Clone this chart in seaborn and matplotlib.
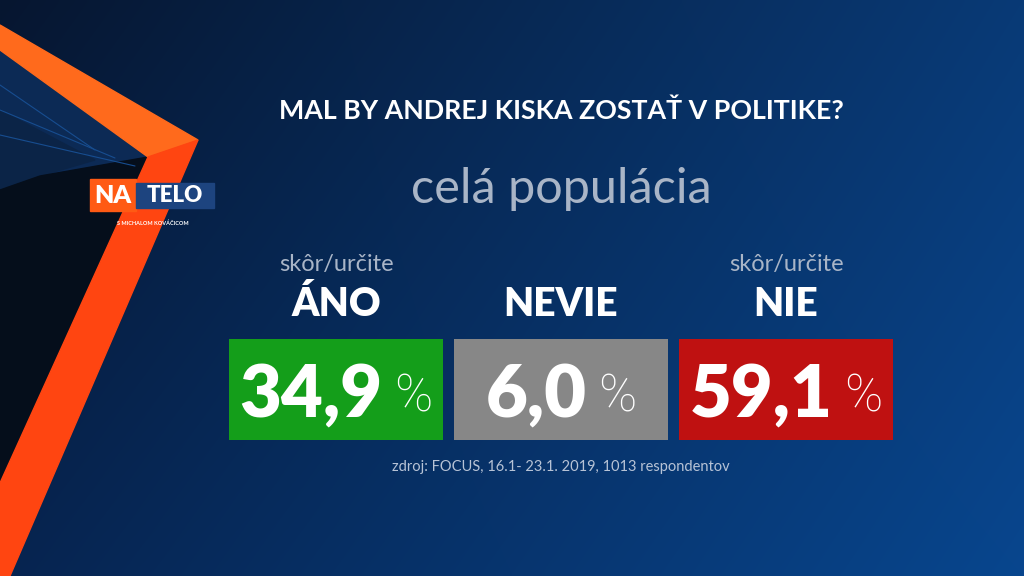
import numpy as np
import matplotlib
matplotlib.use("Agg")
import matplotlib.pyplot as plt
from matplotlib.patches import Polygon
import seaborn as sns

# poll data
question = "MAL BY ANDREJ KISKA ZOSTAŤ V POLITIKE?"
subtitle = "celá populácia"
categories = ["ÁNO", "NEVIE", "NIE"]
qualifiers = ["skôr/určite", "", "skôr/určite"]
shares = [34.9, 6.0, 59.1]
source = "zdroj: FOCUS, 16.1- 23.1. 2019, 1013 respondentov"
box_colors = ["#149e1a", "#878787", "#bf1111"]

sns.set_theme(style="white")
plt.rcParams["font.family"] = ["Lato", "DejaVu Sans"]

W, H = 1024, 576
fig = plt.figure(figsize=(10.24, 5.76), dpi=100)


# background gradient + left decoration, in pixel coords
def draw_background(fig):
    bg = fig.add_axes([0, 0, 1, 1])
    xs = np.linspace(0, 1, 256)[None, :, None]
    ys = np.linspace(0, 1, 144)[:, None, None]
    tl = np.array([6, 22, 48]) / 255
    tr = np.array([9, 58, 118]) / 255
    bl = np.array([6, 36, 80]) / 255
    br = np.array([8, 70, 142]) / 255
    img = (1 - ys) * ((1 - xs) * tl + xs * tr) + ys * ((1 - xs) * bl + xs * br)
    bg.imshow(img, extent=[0, W, H, 0], aspect="auto", interpolation="bilinear")
    # blue stripes zone inside the frame
    bg.add_patch(Polygon([(0, 50), (148, 157), (40, 176), (0, 190)], color="#0c2a55"))
    bg.add_patch(Polygon([(0, 110), (95, 160), (40, 176), (0, 190)], color="#0b2447"))
    for k in range(3):
        bg.plot([0, 95 + 20 * k], [85 + 25 * k, 150 + 8 * k], color="#174d90", lw=0.8)
    # dark inner panel
    bg.add_patch(Polygon([(0, 190), (40, 176), (148, 157), (0, 483)], color="#050e1b"))
    # orange frame
    bg.add_patch(Polygon([(0, 25), (198, 140), (148, 157), (0, 50)], color="#ff6a1c"))
    bg.add_patch(Polygon([(198, 140), (10, 576), (0, 576), (0, 483), (148, 157)], color="#ff4511"))
    bg.set_xlim(0, W)
    bg.set_ylim(H, 0)
    bg.axis("off")
    # show logo
    bg.add_patch(Polygon([(90, 179), (136, 179), (136, 211), (90, 211)], color="#ff5a14"))
    bg.add_patch(Polygon([(136, 183), (214, 183), (214, 208), (136, 208)], color="#1d447f"))
    bg.text(113, 196, "NA", color="white", fontsize=18, fontweight="heavy", ha="center", va="center")
    bg.text(175, 196, "TELO", color="white", fontsize=16, fontweight="heavy", ha="center", va="center")
    bg.text(153, 223, "S MICHALOM KOVÁČICOM", color="white", fontsize=4, fontweight="bold",
            ha="center", va="center")
    return bg


bg = draw_background(fig)

# texts above the boxes
fig.text(561 / W, 1 - 111 / H, question, color="white", fontsize=19.3, fontweight="bold",
         ha="center", va="center")
fig.text(561 / W, 1 - 189 / H, subtitle, color="#a9b5c7", fontsize=35, fontweight="normal",
         ha="center", va="center")

# boxes: equal size panels, one per answer
left = (336 - 112.5) / W
ax = fig.add_axes([left, 136 / H, 675 / W, 101 / H])
sns.barplot(x=categories, y=[1] * len(categories), hue=categories, palette=box_colors,
            saturation=1, width=0.951, legend=False, linewidth=0, edgecolor="none", ax=ax)
ax.set_xlim(-0.5, len(categories) - 0.5)
ax.set_ylim(0, 1)
ax.axis("off")
ax.patch.set_alpha(0)

for i, (cat, q) in enumerate(zip(categories, qualifiers)):
    xc = ax.transData.transform((i, 0))[0] / W
    if q:
        fig.text(xc, 1 - 265 / H, q, color="#a9b5c7", fontsize=17, fontweight="normal",
                 ha="center", va="center")
    fig.text(xc, 1 - 304 / H, cat, color="white", fontsize=28, fontweight="heavy",
             ha="center", va="center")

# value labels: bold number + thin percent sign, centered together
fig.canvas.draw()
renderer = fig.canvas.get_renderer()
for i, v in enumerate(shares):
    num = f"{v:.1f}".replace(".", ",")
    t1 = ax.text(i, 0.5, num, color="white", fontsize=52, fontweight="heavy",
                 ha="left", va="center_baseline")
    t2 = ax.text(i, 0.5, "%", color="white", fontsize=37, fontweight="light",
                 family=["Roboto", "DejaVu Sans"], ha="left", va="center_baseline")
    w1 = t1.get_window_extent(renderer).width
    w2 = t2.get_window_extent(renderer).width
    gap = 12
    x0 = ax.transData.transform((i, 0))[0] - (w1 + gap + w2) / 2
    y0 = ax.transData.transform((0, 0.5))[1]
    inv = ax.transData.inverted()
    t1.set_position(inv.transform((x0, y0)))
    t2.set_position(inv.transform((x0 + w1 + gap, y0 - 3)))

fig.text(561 / W, 1 - 467 / H, source, color="#b7c3d6", fontsize=10.5,
         ha="center", va="center")

fig.savefig("out.png", dpi=100)
